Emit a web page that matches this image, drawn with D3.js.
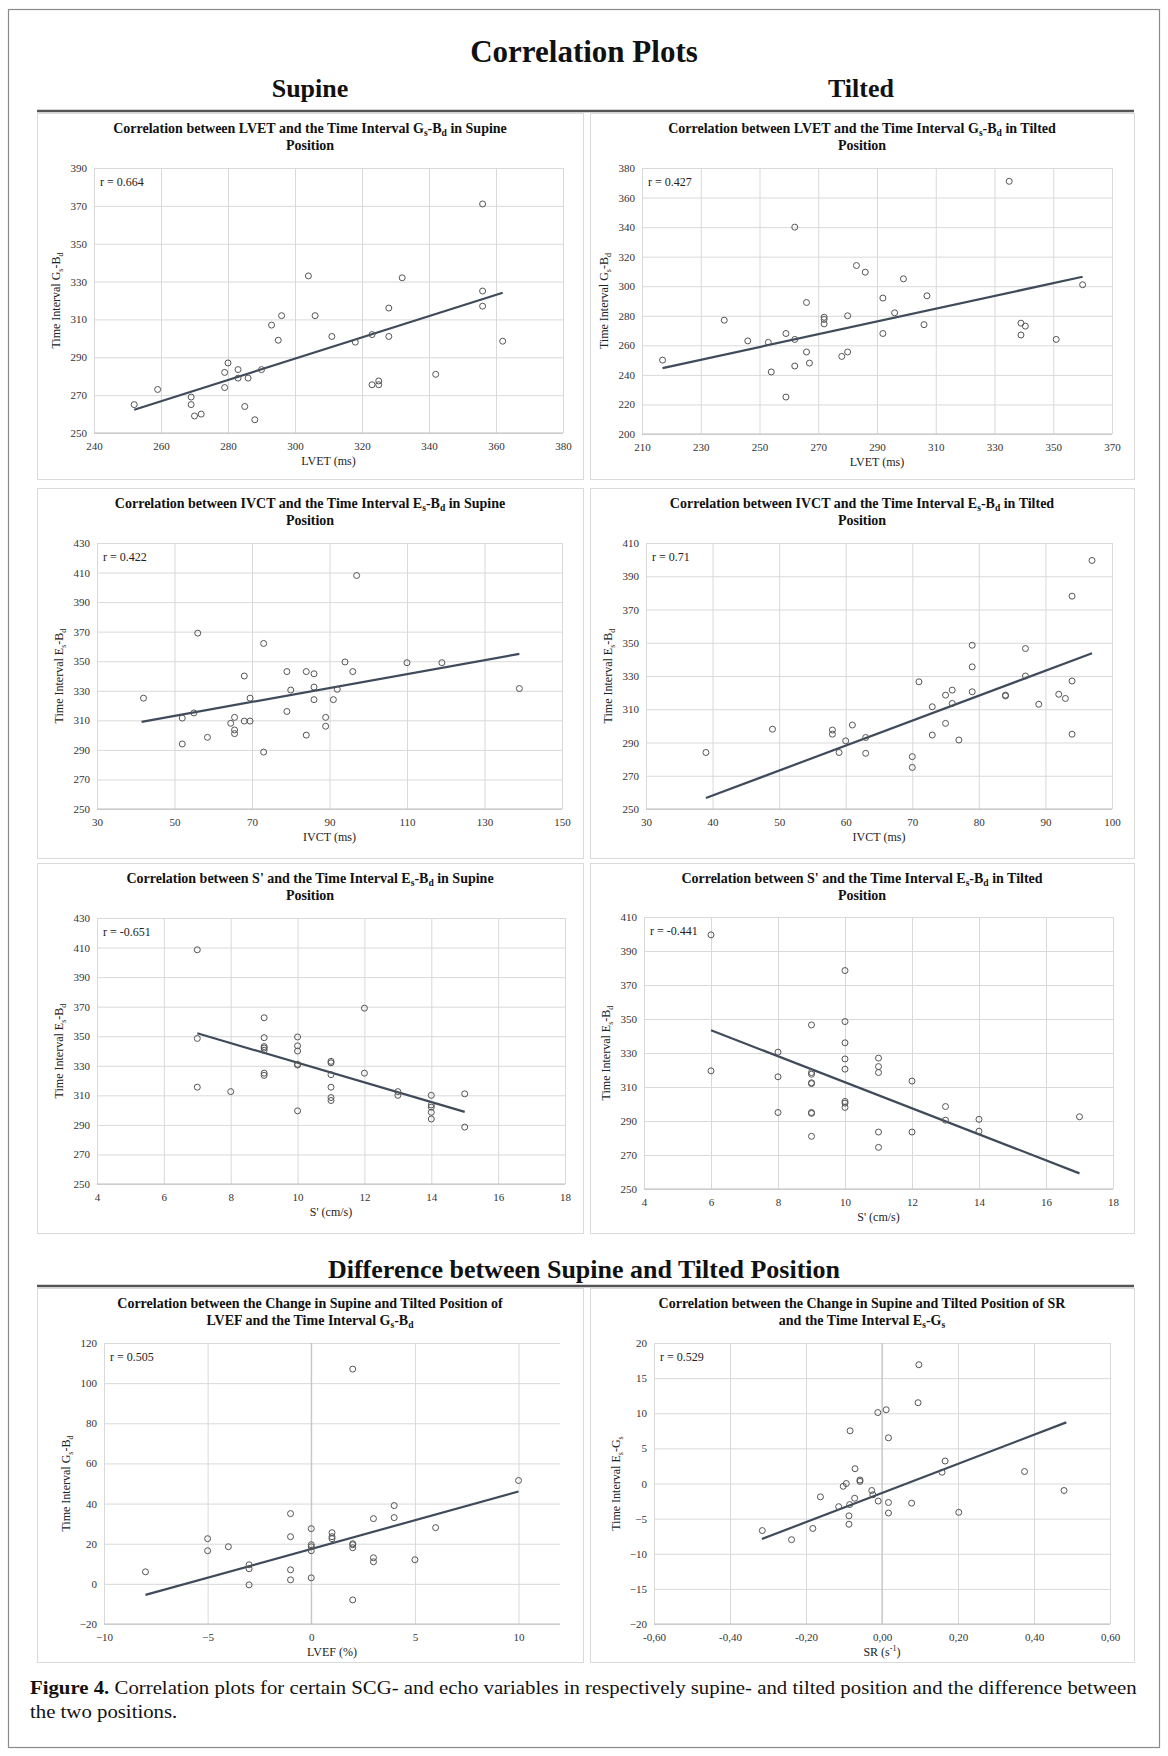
<html>
<head>
  <script src="https://d3js.org/d3.v7.min.js" charset="utf-8"></script>
  <title>Correlation Plots</title>
  <style>
    * { margin: 0; padding: 0; }
    body { background: #fff; }
    text { font-family: "Liberation Serif", "Times New Roman", serif; }
  </style>
</head>
<body>
<div id="figure"></div>

<script>
  // ---- supine, LVET vs Gs-Bd ----
  var lvetSupX = [252,259,269,269,270,272,279,279,280,283,283,286,285,288,290,293,296,295,304,306,311,318,323,323,325,325,328,328,332,342,356,356,356,362];
  var lvetSupY = [265,273,269,265,259,260,282,274,287,283.5,279,279,264,257,283.5,307,312,299,333,312,301,298,302,275.5,277.5,275.5,316,301,332,281,371,325,317,298.5];
  var lvetSupTrendX = [252, 362];
  var lvetSupTrendY = [262.3, 324.1];
  var lvetSupXTicks = [240,260,280,300,320,340,360,380];
  var lvetSupYTicks = [250,270,290,310,330,350,370,390];

  // ---- tilted, LVET vs Gs-Bd ----
  var lvetTiltX = [217,238,246,253,254,259,259,262,262,262,266,266,267,272,272,272,278,280,280,283,286,292,292,296,299,306,307,335,339,340.5,339,351,360];
  var lvetTiltY = [250,277,263,262,242,268,225,340,264,246,289,255.5,248,279,277.5,274.5,252.5,280,255.5,314,309.5,292,268,282,305,274,293.5,371,275,273,267,264,301];
  var lvetTiltTrendX = [217, 360];
  var lvetTiltTrendY = [244.6, 306.4];
  var lvetTiltXTicks = [210,230,250,270,290,310,330,350,370];
  var lvetTiltYTicks = [200,220,240,260,280,300,320,340,360,380];

  // ---- supine, IVCT vs Es-Bd ----
  var ivctSupX = [42,52,52,55,56,58.5,64.5,65.5,65.5,65.5,68,68,69.5,69.5,73,73,79,79,80,84,84,86,86,86,89,89,91,92,94,96,97,110,119,139];
  var ivctSupY = [325,311.5,294,315,369,298.5,308,312,303.5,301,309.5,340,309.5,325,362,288.5,343,316,330.5,343,300,341.5,332.5,324,312,306,324,331,349.5,343,408,349,349,331.5];
  var ivctSupTrendX = [41.5, 139];
  var ivctSupTrendY = [309, 355];
  var ivctSupXTicks = [30,50,70,90,110,130,150];
  var ivctSupYTicks = [250,270,290,310,330,350,370,390,410,430];

  // ---- tilted, IVCT vs Es-Bd ----
  var ivctTiltX = [39,49,58,58,59,60,61,63,63,70,70,71,73,73,75,75,76,76,77,79,79,79,84,84,87,87,89,92,93,94,94,94,97];
  var ivctTiltY = [284,298,297.5,295,284,291,300.5,293,283.5,281.5,275,326.5,311.5,294.5,318.5,301.5,321.5,313.5,291.5,348.5,335.5,320.5,318.5,318,346.5,330,313,319,316.5,327,378,295,399.5];
  var ivctTiltTrendX = [39, 97];
  var ivctTiltTrendY = [256.6, 343.7];
  var ivctTiltXTicks = [30,40,50,60,70,80,90,100];
  var ivctTiltYTicks = [250,270,290,310,330,350,370,390,410];

  // ---- supine, S' vs Es-Bd ----
  var sSupX = [7,7,7,8,9,9,9,9,9,9,9,10,10,10,10,10,10,11,11,11,11,11,11,12,12,13,13,14,14,14,14,14,15,15];
  var sSupY = [408.5,348.5,315.5,312.5,362.5,349,343,342,340.5,325,323.5,349.5,343.5,340,331,330.5,299.5,333,332,324,315.5,308.5,306.5,369,325,312.5,310,310,303.5,302,298.5,294,311,288.5];
  var sSupTrendX = [7, 15];
  var sSupTrendY = [352, 298.8];
  var sSupXTicks = [4,6,8,10,12,14,16,18];
  var sSupYTicks = [250,270,290,310,330,350,370,390,410,430];

  // ---- tilted, S' vs Es-Bd ----
  var sTiltX = [6,6,8,8,8,9,9,9,9,9,9,9,9,10,10,10,10,10,10,10,10,11,11,11,11,11,12,12,13,13,14,14,17];
  var sTiltY = [399.5,319.5,330.5,316,295,346.5,318.5,317.5,312.5,312,295,294.5,281,378.5,348.5,336,326.5,320.5,301.5,300.5,298,327,322,318.5,283.5,274.5,313.5,283.5,298.5,290.5,291,284,292.5];
  var sTiltTrendX = [6, 17];
  var sTiltTrendY = [343.4, 259.2];
  var sTiltXTicks = [4,6,8,10,12,14,16,18];
  var sTiltYTicks = [250,270,290,310,330,350,370,390,410];

  // ---- difference, LVEF vs Gs-Bd ----
  var lvefDiffX = [-8,-5,-5,-4,-3,-3,-3,-1,-1,-1,-1,0,0,0,0,0,1,1,1,2,2,2,2,2,3,3,3,4,4,5,6,10];
  var lvefDiffY = [6,22.5,16.5,18.5,9.5,7.5,-0.5,35,23.5,7,2,27.5,19.5,18.5,16.5,3,25.5,23.5,22.5,107,20,19.5,18,-8,32.5,13,11,39,33,12,28,51.5];
  var lvefDiffTrendX = [-8, 10];
  var lvefDiffTrendY = [-5.5, 46];
  var lvefDiffXTicks = [-10,-5,0,5,10];
  var lvefDiffXMax = 12;
  var lvefDiffYTicks = [-20,0,20,40,60,80,100,120];

  // ---- difference, SR vs Es-Gs ----
  var srDiffX = [-0.315,-0.238,-0.182,-0.162,-0.114,-0.102,-0.094,-0.084,-0.085,-0.087,-0.087,-0.071,-0.072,-0.058,-0.058,-0.027,-0.024,-0.011,-0.010,0.011,0.017,0.017,0.017,0.078,0.095,0.097,0.158,0.166,0.202,0.375,0.479];
  var srDiffY = [-6.7,-8,-6.4,-1.9,-3.3,-0.4,0,7.5,-3,-4.6,-5.8,2.1,-2.1,0.5,0.3,-1,-1.6,10.1,-2.5,10.5,6.5,-2.7,-4.2,-2.8,11.5,16.9,1.6,3.2,-4.1,1.7,-1];
  var srDiffTrendX = [-0.316, 0.485];
  var srDiffTrendY = [-7.9, 8.7];
  var srDiffXTicks = [-0.6,-0.4,-0.2,0,0.2,0.4,0.6];
  var srDiffYTicks = [-20,-15,-10,-5,0,5,10,15,20];

  var w = 1168;
  var h = 1756;

  var svg = d3.select("#figure")
        .append("svg")
        .attr("width", w)
        .attr("height", h);

  // text with _{sub} and ^{sup} parts
  function rich(t, str, fs) {
    var parts = str.split(/([_^]\{[^}]*\})/);
    var off = 0;
    parts.forEach(function(p) {
      if (!p) return;
      var target = 0, txt = p, small = false;
      if (p[0] == "_" && p[1] == "{") { target = fs * 0.22; txt = p.slice(2, -1); small = true; }
      else if (p[0] == "^" && p[1] == "{") { target = -fs * 0.38; txt = p.slice(2, -1); small = true; }
      var ts = t.append("tspan").attr("dy", target - off).text(txt);
      if (small) ts.attr("font-size", fs * 0.68);
      off = target;
    });
  }

  // frame + headings
  svg.append("rect")
     .attr("x", 8.5).attr("y", 9.5)
     .attr("width", 1151).attr("height", 1738)
     .attr("fill", "none").attr("stroke", "#8a8a8a").attr("stroke-width", 1.2);

  svg.append("text").attr("x", 584).attr("y", 62)
     .attr("text-anchor", "middle").attr("font-size", 31).attr("font-weight", "bold")
     .attr("fill", "#111").text("Correlation Plots");
  svg.append("text").attr("x", 310).attr("y", 97)
     .attr("text-anchor", "middle").attr("font-size", 26).attr("font-weight", "bold")
     .attr("fill", "#111").text("Supine");
  svg.append("text").attr("x", 861).attr("y", 97)
     .attr("text-anchor", "middle").attr("font-size", 26).attr("font-weight", "bold")
     .attr("fill", "#111").text("Tilted");
  svg.append("text").attr("x", 584).attr("y", 1278)
     .attr("text-anchor", "middle").attr("font-size", 26).attr("font-weight", "bold")
     .attr("fill", "#111").text("Difference between Supine and Tilted Position");

  [111, 1286].forEach(function(y) {
    svg.append("line").attr("x1", 37).attr("x2", 1134).attr("y1", y).attr("y2", y)
       .attr("stroke", "#555").attr("stroke-width", 2.5);
  });

  var charts = [
    {box:[37,113,583,479], plot:[94,168,563,433],
     title:["Correlation between LVET and the Time Interval G_{s}-B_{d}  in Supine", "Position"],
     xLabel:"LVET (ms)", yLabel:"Time Interval G_{s}-B_{d}", r:"r = 0.664",
     xs:lvetSupX, ys:lvetSupY, tx:lvetSupTrendX, ty:lvetSupTrendY, xTicks:lvetSupXTicks, yTicks:lvetSupYTicks},
    {box:[590,113,1134,479], plot:[642,168,1112,434],
     title:["Correlation between LVET and the Time Interval G_{s}-B_{d} in Tilted", "Position"],
     xLabel:"LVET (ms)", yLabel:"Time Interval G_{s}-B_{d}", r:"r = 0.427",
     xs:lvetTiltX, ys:lvetTiltY, tx:lvetTiltTrendX, ty:lvetTiltTrendY, xTicks:lvetTiltXTicks, yTicks:lvetTiltYTicks},
    {box:[37,488,583,858], plot:[97,543,562,809],
     title:["Correlation between IVCT and the Time Interval E_{s}-B_{d} in Supine", "Position"],
     xLabel:"IVCT (ms)", yLabel:"Time Interval E_{s}-B_{d}", r:"r = 0.422",
     xs:ivctSupX, ys:ivctSupY, tx:ivctSupTrendX, ty:ivctSupTrendY, xTicks:ivctSupXTicks, yTicks:ivctSupYTicks},
    {box:[590,488,1134,858], plot:[646,543,1112,809],
     title:["Correlation between IVCT and the Time Interval E_{s}-B_{d} in Tilted", "Position"],
     xLabel:"IVCT (ms)", yLabel:"Time Interval E_{s}-B_{d}", r:"r = 0.71",
     xs:ivctTiltX, ys:ivctTiltY, tx:ivctTiltTrendX, ty:ivctTiltTrendY, xTicks:ivctTiltXTicks, yTicks:ivctTiltYTicks},
    {box:[37,863,583,1233], plot:[97,918,565,1184],
     title:["Correlation between S' and the Time Interval E_{s}-B_{d} in Supine", "Position"],
     xLabel:"S' (cm/s)", yLabel:"Time Interval E_{s}-B_{d}", r:"r = -0.651",
     xs:sSupX, ys:sSupY, tx:sSupTrendX, ty:sSupTrendY, xTicks:sSupXTicks, yTicks:sSupYTicks},
    {box:[590,863,1134,1233], plot:[644,917,1113,1189],
     title:["Correlation between S' and the Time Interval E_{s}-B_{d} in Tilted", "Position"],
     xLabel:"S' (cm/s)", yLabel:"Time Interval E_{s}-B_{d}", r:"r = -0.441",
     xs:sTiltX, ys:sTiltY, tx:sTiltTrendX, ty:sTiltTrendY, xTicks:sTiltXTicks, yTicks:sTiltYTicks},
    {box:[37,1288,583,1662], plot:[104,1343,560,1624],
     title:["Correlation between the Change in Supine and Tilted Position of", "LVEF and the Time Interval G_{s}-B_{d}"],
     xLabel:"LVEF (%)", yLabel:"Time Interval G_{s}-B_{d}", r:"r = 0.505",
     xs:lvefDiffX, ys:lvefDiffY, tx:lvefDiffTrendX, ty:lvefDiffTrendY, xTicks:lvefDiffXTicks, yTicks:lvefDiffYTicks,
     xMax:lvefDiffXMax, zeroAxis:true},
    {box:[590,1288,1134,1662], plot:[654,1343,1110,1624],
     title:["Correlation between the Change in Supine and Tilted Position of SR", "and the Time Interval E_{s}-G_{s}"],
     xLabel:"SR (s^{-1})", yLabel:"Time Interval E_{s}-G_{s}", r:"r = 0.529",
     xs:srDiffX, ys:srDiffY, tx:srDiffTrendX, ty:srDiffTrendY, xTicks:srDiffXTicks, yTicks:srDiffYTicks,
     xFmt:function(d){ return d3.format(".2f")(d).replace(".", ",").replace("−", "-"); }, zeroAxis:true}
  ];

  charts.forEach(function(c) {
    var g = svg.append("g");
    var b = c.box, p = c.plot;
    var pw = p[2] - p[0], ph = p[3] - p[1];

    g.append("rect")
     .attr("x", b[0] + 0.5).attr("y", b[1] + 0.5)
     .attr("width", b[2] - b[0]).attr("height", b[3] - b[1])
     .attr("fill", "#fff").attr("stroke", "#dadada").attr("stroke-width", 1);

    var cx = (b[0] + b[2]) / 2;
    c.title.forEach(function(line, i) {
      var t = g.append("text").attr("x", cx).attr("y", b[1] + 20 + i * 17)
               .attr("text-anchor", "middle").attr("font-size", 14).attr("font-weight", "bold")
               .attr("fill", "#111");
      rich(t, line, 14);
    });

    var xDom = d3.extent(c.xTicks);
    if (c.xMax != null) xDom[1] = c.xMax;
    var x = d3.scaleLinear().domain(xDom).range([p[0], p[2]]);
    var y = d3.scaleLinear().domain(d3.extent(c.yTicks)).range([p[3], p[1]]);

    var yAxis = g.append("g")
        .attr("transform", "translate(" + p[0] + ",0)")
        .call(d3.axisLeft(y).tickValues(c.yTicks).tickSize(-pw).tickPadding(7)
              .tickFormat(d3.format("d")));
    var xAxis = g.append("g")
        .attr("transform", "translate(0," + p[3] + ")")
        .call(d3.axisBottom(x).tickValues(c.xTicks).tickSize(-ph).tickPadding(9)
              .tickFormat(c.xFmt || d3.format("d")));

    [yAxis, xAxis].forEach(function(a) {
      a.select(".domain").remove();
      a.selectAll(".tick line").attr("stroke", "#d9d9d9").attr("stroke-width", 1);
      a.selectAll(".tick text")
       .attr("font-family", "'Liberation Serif', serif")
       .attr("font-size", 11).attr("fill", "#333");
    });

    // axis line
    g.append("line").attr("x1", p[0]).attr("x2", p[2]).attr("y1", p[3]).attr("y2", p[3])
     .attr("stroke", "#bfbfbf").attr("stroke-width", 1);
    if (c.zeroAxis) {
      g.append("line").attr("x1", x(0)).attr("x2", x(0)).attr("y1", p[1]).attr("y2", p[3])
       .attr("stroke", "#bfbfbf").attr("stroke-width", 1);
    }

    // axis titles
    var xt = g.append("text").attr("x", (p[0] + p[2]) / 2).attr("y", p[3] + 32)
              .attr("text-anchor", "middle").attr("font-size", 12).attr("fill", "#222");
    rich(xt, c.xLabel, 12);
    var yt = g.append("text")
              .attr("transform", "translate(" + (p[0] - 34) + "," + ((p[1] + p[3]) / 2) + ") rotate(-90)")
              .attr("text-anchor", "middle").attr("font-size", 12).attr("fill", "#222");
    rich(yt, c.yLabel, 12);

    g.append("text").attr("x", p[0] + 6).attr("y", p[1] + 18)
     .attr("font-size", 12).attr("fill", "#222").text(c.r);

    // trend line
    g.append("line")
     .attr("x1", x(c.tx[0])).attr("y1", y(c.ty[0]))
     .attr("x2", x(c.tx[1])).attr("y2", y(c.ty[1]))
     .attr("stroke", "#3f4b5b").attr("stroke-width", 2.2);

    // points
    g.selectAll("circle.pt")
     .data(c.xs)
     .enter()
     .append("circle")
     .attr("class", "pt")
     .attr("cx", function(d) { return x(d); })
     .attr("cy", function(d, i) { return y(c.ys[i]); })
     .attr("r", 3)
     .attr("fill", "none")
     .attr("stroke", "#555")
     .attr("stroke-width", 1);
  });

  // caption
  var cap = svg.append("g");
  var c1 = cap.append("text").attr("x", 30).attr("y", 1694).attr("font-size", 18).attr("fill", "#111");
  c1.append("tspan").attr("font-weight", "bold").text("Figure 4.");
  c1.append("tspan").text(" Correlation plots for certain SCG- and echo variables in respectively supine- and tilted position and the difference between");
  cap.append("text").attr("x", 30).attr("y", 1718).attr("font-size", 18).attr("fill", "#111")
     .text("the two positions.");
  var capW = c1.node().getComputedTextLength();
  var sx = 1108 / capW;
  cap.attr("transform", "translate(30,0) scale(" + sx + ",1) translate(-30,0)");
</script>

</body>
</html>
